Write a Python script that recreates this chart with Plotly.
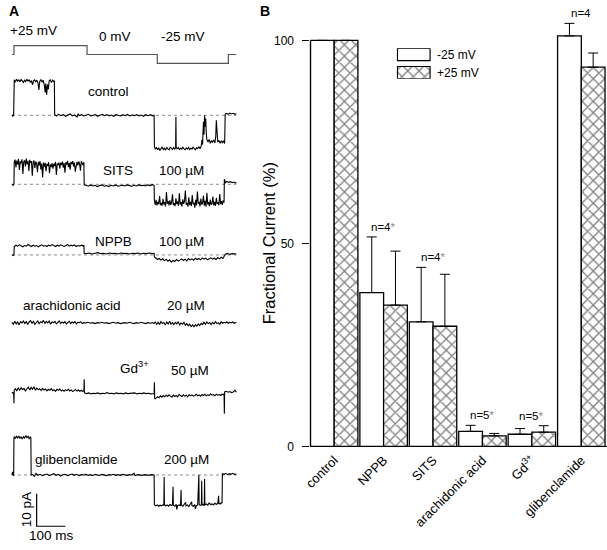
import plotly.graph_objects as go

# ================= DATA =================
# ---- Panel B: fractional current (%) ----
categories = ["control", "NPPB", "SITS", "arachidonic acid", "Gd<sup>3+</sup>", "glibenclamide"]
current_neg25 = [100, 37.9, 30.7, 3.7, 3.0, 101.1]
err_neg25 = [None, 13.7, 13.4, 1.5, 1.4, 3.1]
current_pos25 = [100, 34.8, 29.6, 2.6, 3.5, 93.4]
err_pos25 = [None, 13.3, 12.8, 0.6, 1.6, 3.5]
n_labels = ["", "n=4*", "n=4*", "n=5*", "n=5*", "n=4"]
y_ticks = [0, 50, 100]
legend_labels = ["-25 mV", "+25 mV"]

# ---- Panel A: voltage protocol (ms, mV) ----
protocol_t = [0, 7, 7, 262, 262, 507, 507, 755, 755, 783]
protocol_mV = [0, 0, 25, 25, 0, 0, -25, -25, 0, 0]
protocol_labels = ["+25 mV", "0 mV", "-25 mV"]

# ---- Panel A: current traces (ms, pA relative to closed level) ----
control_t = [0, 3, 6, 7, 8, 12, 16, 20, 24, 28, 32, 36, 40, 44, 48, 52, 56, 60, 64, 68, 72, 75, 79, 83, 87, 91, 94, 97,
             101, 105, 109, 113, 116, 118, 121, 124, 127, 130, 134, 138, 142, 146, 148, 149,
             155, 163, 171, 179, 187, 195, 203, 211, 219, 227, 231, 235, 243, 251, 259, 267, 275, 283, 291, 299,
             307, 315, 323, 331, 339, 347, 355, 363, 371, 379, 387, 395, 403, 411, 419, 427, 435, 443, 451, 459,
             467, 475, 483, 491, 496,
             497, 500, 504, 508, 512, 516, 520, 524, 528, 532, 536, 540, 544, 548, 552, 556, 560, 564, 568, 571,
             572, 573, 576, 580, 584, 588, 592, 596, 600, 604, 608, 612, 616, 620, 624, 628, 632, 636, 640, 644,
             648, 652, 656, 660, 663, 665, 668, 670, 672, 674, 676, 678, 680, 684, 688, 692, 696, 700, 704, 708,
             711, 713, 715, 718, 722, 726, 730, 734, 738, 742, 744,
             748, 754, 760, 766, 772, 778, 783]
control_pA = [0.2, -0.3, 0.1, 10.6, 10.9, 10.2, 11.1, 10.5, 10.9, 10.3, 11.0, 10.6, 10.1, 10.8, 10.4, 11.1, 10.5, 10.9,
              10.2, 10.7, 9.4, 10.6, 10.9, 10.3, 10.8, 9.9, 7.8, 10.4,
              11.0, 10.2, 10.8, 9.2, 7.0, 9.8, 6.3, 9.5, 8.0, 10.6, 10.9, 10.1, 10.8, 10.4, 10.7, 0.2,
              -0.2, 0.3, -0.1, 0.2, -0.3, 0.1, 0.4, -0.2, 0.1, -0.5, 0.5, -0.1, 0.2, -0.2, 0.1, 0.3, -0.2, 0.0, 0.2, -0.3,
              0.1, 0.3, -0.1, 0.2, -0.2, 0.1, -0.3, 0.2, 0.0, -0.2, 0.2, -0.1, 0.3, -0.2, 0.1, -0.1, 0.2, -0.2, 0.1, -0.3,
              0.2, -0.1, 0.2, -0.2, 0.1,
              -9.6, -10.4, -9.9, -10.6, -10.0, -10.8, -10.2, -9.7, -10.5, -10.1, -10.7, -9.9, -10.3, -10.6, -9.8, -10.2,
              -10.5, -9.9, -10.4, -10.0,
              -0.5, -9.8, -10.3, -9.9, -10.5, -10.1, -10.4, -9.8, -10.3, -10.6, -10.0, -10.4, -9.9, -10.5, -10.1, -10.4,
              -9.8, -10.3, -10.6, -10.0,
              -10.2, -9.7, -10.3, -9.5, -7.5, -9.0, -2.0, -6.0, 0.0, -3.5, -1.0, -5.5, -7.5, -8.2, -7.4, -8.6, -7.8,
              -8.3, -7.6, -8.5,
              -6.5, -1.5, -7.0, -8.2, -7.7, -8.6, -7.9, -8.4, -7.8, -8.7, 0.4,
              0.6, 0.3, 0.7, 0.4, 0.6, 0.3, 0.5]

sits_t = [0, 4, 7, 8, 11, 14, 17, 20, 23, 26, 29, 32, 35, 38, 41, 44, 47, 50, 53, 56, 59, 62, 65, 68, 71, 74, 77, 80, 83,
          86, 89, 92, 95, 98, 101, 104, 107, 110, 113, 116, 119, 122, 125, 128, 131, 134, 137, 140, 143, 146, 149,
          152, 155, 158, 161, 164, 167, 170, 173, 176, 179, 182, 185, 188, 191, 194, 197, 200, 203, 206, 209, 212,
          215, 218, 221, 224, 227, 230, 233, 236, 239, 242, 245, 248, 251, 252,
          258, 266, 274, 282, 290, 298, 306, 314, 322, 330, 338, 346, 354, 362, 370, 378, 386, 394, 402, 410, 418,
          426, 434, 442, 450, 458, 466, 474, 482, 490, 496,
          497, 500, 503, 506, 509, 512, 515, 518, 521, 524, 527, 530, 533, 536, 539, 542, 545, 548, 551, 554, 557,
          560, 563, 566, 569, 572, 575, 578, 581, 584, 587, 590, 593, 596, 599, 602, 605, 608, 611, 614, 617, 620,
          623, 626, 629, 632, 635, 638, 641, 644, 647, 650, 653, 656, 659, 662, 665, 668, 671, 674, 677, 680, 683,
          686, 689, 692, 695, 698, 701, 704, 707, 710, 713, 716, 719, 722, 725, 728, 731, 734, 737, 740, 741,
          745, 750, 756, 762, 768, 774, 780, 783]
sits_pA = [0.0, -0.3, 0.2, 6.8, 7.6, 5.2, 7.3, 6.1, 7.8, 4.4, 7.0, 6.5, 7.7, 3.2, 6.9, 7.4, 5.5, 7.9, 6.2, 7.2, 4.1, 7.5,
           6.6, 7.1, 2.6, 6.8, 7.3, 5.0, 7.0, 6.3, 3.7, 6.9, 5.8, 7.1, 4.6, 6.4, 2.1, 6.7, 5.4, 6.6, 4.0, 6.2, 5.7,
           6.8, 3.4, 6.1, 5.3, 6.5, 4.8, 6.3, 5.6, 6.9, 2.9, 6.4, 5.9, 6.7, 4.9, 6.6, 6.0, 7.0, 5.1, 6.5, 3.6, 6.8,
           6.1, 7.2, 5.3, 6.6, 4.5, 6.9, 6.2, 7.1, 5.5, 6.7, 3.9, 6.4, 6.9, 5.8, 7.0, 6.3, 4.2, 7.1, 6.5, 5.9, 6.8, -0.2,
           -0.3, -0.6, -0.2, -0.5, -0.3, -0.7, -0.4, -0.2, -0.6, -0.4, -0.7, -0.3, -0.5, -0.2, -0.6, -0.4, -0.3, -0.5,
           -0.2, -0.4, -0.6, -0.3, -0.5, -0.2, -0.4, -0.3, -0.5, -0.2, -0.4, -0.1, -0.3,
           -5.0, -6.3, -4.8, -6.5, -5.4, -6.1, -3.6, -6.4, -5.7, -6.6, -4.5, -6.2, -5.5, -6.8, -2.4, -6.0, -5.2, -6.5,
           -4.9, -6.3, -5.6, -3.1, -6.4, -5.8, -6.7, -4.3, -6.1, -5.3, -6.6, -2.8, -6.2, -5.5, -6.8, -4.6, -6.0, -5.2,
           -1.9, -6.3, -5.7, -6.9, -4.0, -6.4, -5.4, -6.7, -3.3, -6.1, -5.6, -7.2, -4.8, -6.5, -2.2, -6.0, -5.3, -6.8,
           -4.4, -6.3, -5.8, -3.5, -6.6, -5.1, -6.9, -2.6, -6.2, -5.5, -6.7, -4.7, -6.3, -5.9, -3.8, -6.5, -5.4, -6.6,
           -4.2, -6.0, -5.7, -6.4, -3.0, -6.1, -5.2, -6.3, -4.9, -5.6, 1.6,
           0.5, 0.9, 0.6, 0.8, 0.5, 0.7, 0.4, 0.6]

nppb_t = [0, 4, 7, 8, 14, 20, 26, 32, 38, 44, 50, 56, 62, 68, 74, 80, 86, 92, 98, 104, 110, 116, 122, 128, 134, 140, 146,
          152, 158, 164, 170, 176, 182, 188, 194, 200, 206, 212, 218, 224, 230, 236, 242, 248, 251, 252,
          260, 270, 280, 290, 300, 310, 320, 330, 340, 350, 360, 370, 380, 390, 400, 410, 420, 430, 440, 450, 460,
          470, 480, 490, 496,
          497, 502, 508, 514, 520, 526, 532, 538, 544, 550, 556, 562, 568, 574, 580, 586, 592, 598, 604, 610, 616,
          622, 628, 634, 640, 646, 652, 658, 664, 670, 676, 682, 688, 694, 700, 706, 712, 718, 724, 730, 736, 740,
          745, 752, 760, 768, 776, 783]
nppb_pA = [0.1, -0.2, 0.0, 2.6, 3.0, 2.7, 3.1, 2.8, 2.5, 2.9, 2.7, 3.2, 2.8, 2.6, 3.0, 2.7, 2.9, 2.5, 2.8, 3.1, 2.7, 2.9,
           2.6, 3.0, 2.8, 3.2, 2.9, 2.6, 3.0, 2.7, 3.1, 2.8, 2.6, 2.9, 3.2, 2.7, 3.0, 2.8, 3.1, 2.6, 2.9, 2.7, 3.0,
           2.8, 2.9, 0.5,
           0.4, 0.6, 0.3, 0.5, 0.7, 0.4, 0.5, 0.3, 0.6, 0.4, 0.5, 0.3, 0.6, 0.4, 0.5, 0.3, 0.5, 0.4, 0.6, 0.3, 0.5,
           0.4, 0.6, 0.4, 0.5,
           -0.6, -1.0, -1.4, -1.1, -1.6, -1.2, -1.8, -1.3, -1.9, -1.5, -2.2, -1.7, -2.0, -1.4, -1.9, -1.6, -1.2, -1.7,
           -1.3, -1.8, -1.1, -1.5, -1.2, -1.6, -1.0, -1.4, -1.1, -1.5, -0.9, -1.3, -1.0, -1.5, -1.2, -0.9, -1.3,
           -1.0, -1.4, -0.8, -1.2, -0.7, -1.1, -0.6,
           0.3, 0.4, 0.2, 0.4, 0.3, 0.3]

arach_t = [0, 5, 10, 15, 20, 25, 30, 35, 40, 45, 50, 55, 60, 65, 70, 75, 80, 85, 90, 95, 100, 105, 110, 115, 120, 125,
           130, 135, 140, 145, 150, 155, 160, 165, 170, 175, 180, 185, 190, 195, 200, 205, 210, 215, 220, 225, 230,
           235, 240, 245, 250,
           258, 266, 274, 282, 290, 298, 306, 314, 322, 330, 338, 346, 354, 362, 370, 378, 386, 394, 402, 410, 418,
           426, 434, 442, 450, 458, 466, 474, 482, 490, 496,
           500, 505, 510, 515, 520, 525, 530, 535, 540, 545, 550, 555, 560, 565, 570, 575, 580, 585, 590, 595, 600,
           605, 610, 615, 620, 625, 630, 635, 640, 645, 650, 655, 660, 665, 670, 675, 680, 685, 690, 695, 700, 705,
           710, 715, 720, 725, 730, 735, 740, 745, 750, 755, 760, 765, 770, 775, 780, 783]
arach_pA = [0.2, -0.4, 0.5, -0.3, 0.3, -0.6, 0.4, 0.0, 0.6, -0.2, 0.4, -0.5, 0.3, 0.7, -0.1, 0.5, -0.4, 0.2, 0.6, -0.3,
            0.4, 0.1, 0.8, -0.2, 0.5, 0.0, 0.6, -0.4, 0.3, 0.1, 0.5, -0.3, 0.2, 0.6, -0.2, 0.3, 0.0, 0.4, -0.3, 0.2,
            0.5, -0.2, 0.3, 0.0, 0.4, -0.3, 0.2, 0.1, 0.4, -0.2, 0.1,
            0.0, 0.2, -0.1, 0.1, -0.2, 0.1, 0.0, 0.2, -0.1, 0.1, -0.2, 0.0, 0.2, -0.1, 0.1, -0.2, 0.0, 0.1, -0.1, 0.2,
            0.0, -0.2, 0.1, -0.1, 0.2, 0.0, -0.2, 0.1, -0.1, 0.1, -0.2,
            0.3, -0.4, 0.2, -0.5, 0.4, -0.2, 0.1, -0.6, 0.3, -0.3, 0.5, -0.4, 0.1, -0.5, 0.2, -0.3, 0.4, -0.6, 0.0,
            -0.4, 0.2, -0.7, -0.2, -0.9, -0.4, -1.1, -0.6, -1.2, -0.5, -1.0, -0.3, -0.8, -0.1, -0.5, 0.2, -0.4, 0.3,
            -0.2, 0.1, -0.5, 0.2, -0.3, 0.4, -0.2, 0.1, -0.4, 0.3, -0.1, 0.2, 0.0, 0.3, -0.1, 0.2, 0.0, 0.3, -0.1,
            0.1, 0.0]

gd_t = [0, 4, 6, 7, 8, 12, 17, 22, 27, 32, 37, 42, 47, 52, 57, 62, 67, 72, 77, 82, 87, 92, 97, 102, 107, 112, 117, 122,
        127, 132, 137, 142, 147, 152, 157, 162, 167, 172, 177, 182, 187, 192, 197, 202, 207, 212, 217, 222, 227, 232,
        237, 242, 247, 251, 252, 253,
        260, 268, 276, 284, 292, 300, 308, 316, 324, 332, 340, 348, 356, 364, 372, 380, 388, 396, 404, 412, 420, 428,
        436, 444, 452, 460, 468, 476, 484, 492, 496, 497, 498,
        503, 508, 513, 518, 523, 528, 533, 538, 543, 548, 553, 558, 563, 568, 573, 578, 583, 588, 593, 598, 603, 608,
        613, 618, 623, 628, 633, 638, 643, 648, 653, 658, 663, 668, 673, 678, 683, 688, 693, 698, 703, 708, 713, 718,
        723, 728, 733, 738, 740, 741, 742,
        748, 754, 760, 766, 772, 778, 783]
gd_pA = [0.2, -0.1, 0.1, -3.2, 0.8, 1.3, 0.7, 1.5, 0.9, 1.6, 1.0, 1.4, 0.6, 1.2, 1.8, 0.9, 1.7, 1.1, 1.9, 0.8, 1.5, 1.0,
         1.3, 0.7, 1.4, 0.9, 1.2, 0.6, 1.1, 0.8, 1.3, 0.7, 1.0, 0.5, 1.1, 0.8, 1.2, 0.6, 0.9, 0.5, 1.0, 0.7, 1.1, 0.6,
         0.9, 0.4, 0.8, 1.0, 0.6, 0.9, 0.5, 0.8, 0.4, 0.7, 4.2, 0.0,
         -0.2, 0.0, -0.3, -0.1, -0.2, 0.0, -0.3, -0.1, -0.2, 0.1, -0.2, -0.1, -0.3, 0.0, -0.2, -0.1, -0.3, 0.0, -0.2,
         -0.1, -0.2, 0.0, -0.3, -0.1, -0.2, 0.0, -0.2, -0.1, -0.3, -0.1, -0.2, 3.3, -1.9,
         -1.6, -1.2, -1.5, -0.9, -1.3, -0.8, -1.2, -0.7, -1.1, -0.6, -1.0, -1.3, -0.7, -1.1, -0.8, -1.2, -0.5, -0.9,
         -1.1, -0.6, -1.0, -0.7, -1.2, -0.5, -0.9, -0.6, -1.0, -0.8, -0.4, -0.9, -0.6, -1.0, -0.5, -0.8, -0.4, -0.9,
         -0.6, -0.8, -0.3, -0.7, -0.5, -0.9, -0.4, -0.7, -0.5, -0.8, -0.4, -0.6, -0.3, -6.4, 0.3,
         0.5, 0.2, 0.4, 0.1, 0.3, 0.8, 0.2]

glib_t = [0, 2, 4, 6, 7, 8, 12, 16, 20, 24, 28, 32, 36, 40, 44, 48, 52, 56, 60, 64, 66, 67,
          72, 78, 84, 90, 98, 106, 114, 122, 130, 138, 146, 154, 162, 170, 178, 186, 194, 202, 210, 218, 226, 234,
          242, 250, 258, 266, 274, 282, 290, 298, 306, 314, 322, 330, 338, 346, 354, 362, 370, 378, 386, 394, 402,
          410, 418, 426, 430, 438, 446, 454, 462, 470, 478, 486, 496,
          497, 502, 507, 512, 517, 522, 527, 530, 531, 532, 536, 541, 546, 551, 556, 560, 562, 563, 568, 573, 575,
          578, 583, 588, 590, 591, 596, 601, 606, 607, 612, 617, 622, 627, 628, 633, 638, 640, 643, 648, 652, 653,
          657, 661, 662, 663, 667, 671, 672, 673, 678, 683, 688, 693, 698, 703, 708, 713, 718, 721, 722, 726, 730,
          733, 734,
          740, 746, 752, 758, 764, 770, 776, 783]
glib_pA = [0.0, 1.0, 0.0, -0.2, 11.3, 11.8, 11.2, 11.9, 11.4, 12.0, 11.3, 11.7, 11.1, 11.8, 11.4, 12.1, 11.5, 11.9, 11.2,
           11.7, 11.5, 0.0,
           0.2, -0.4, 0.5, -0.1, 0.2, -0.2, 0.1, 0.3, -0.2, 0.1, 0.4, -0.1, 0.2, -0.3, 0.1, 0.2, -0.2, 0.1, 0.3,
           -0.1, 0.2, -0.2, 0.1, 0.0, 0.2, -0.1, 0.1, -0.2, 0.2, 0.0, -0.1, 0.2, 0.0, -0.2, 0.1, 0.0, 0.2, -0.1, 0.1,
           -0.1, 0.2, 0.0, -0.1, 0.1, 0.0, 0.5, -0.2, 0.1, 0.0, -0.1, 0.1, 0.0, -0.1, 0.1, 0.0,
           -9.2, -9.5, -9.2, -9.6, -9.3, -9.5, -9.2, -9.4, -0.6, -9.1, -9.5, -9.2, -9.6, -9.1, -9.4, -9.2, -3.6, -9.3,
           -9.6, -9.0, -10.6, -9.4, -9.2, -9.5, -4.6, -9.2, -9.6, -9.1, -8.4, -9.5, -9.2, -9.7, -9.1, -8.2, -9.4,
           -9.6, -9.1, -10.4, -9.5, -9.2, 0.0, -9.0, -9.4, -9.1, -1.8, -9.3, -9.0, -9.4, -1.2, -9.2, -8.9, -9.3,
           -8.6, -9.1, -8.9, -9.2, -8.7, -9.0, -8.8, -6.4, -8.7, -8.9, -8.5, -8.7, 0.4,
           0.2, 0.5, 0.1, 0.4, 0.2, 0.5, 0.2, 0.3]

scale_bar_pA = 10
scale_bar_ms = 100

# ================= LAYOUT CONSTANTS =================
W, H = 607, 550
FONT = "Liberation Sans, Arial, Helvetica, sans-serif"


def fx(px):
    return px / W


def fy(py):
    return 1 - py / H


# Panel A geometry (pixels)
T0_PX = 5.0          # x pixel of t = 0 ms
PX_PER_MS = 0.29
PX_PER_PA = 3.3
PROTO_BASE_PX = 54.3
PX_PER_MV = 9.0 / 25.0
baseline_px = {"control": 116.0, "sits": 186.0, "nppb": 257.7, "arach": 326.7, "gd": 397.7, "glib": 481.0}
dotted = ["control", "sits", "nppb", "glib"]
scale_corner_px = (30.0, 533.0)


def off(py):
    return (H - py) / PX_PER_PA


# Panel B geometry (pixels)
B_X0, B_X1 = 307.0, 607.0
B_Y0_PX, B_Y100_PX, B_TOP_PX = 452.0, 40.0, 10.0
px_per_pct = (B_Y0_PX - B_Y100_PX) / 100.0
b_ymax = (B_Y0_PX - B_TOP_PX) / px_per_pct

fig = go.Figure()

# ---------------- Panel A ----------------
traces_A = {
    "control": (control_t, control_pA),
    "sits": (sits_t, sits_pA),
    "nppb": (nppb_t, nppb_pA),
    "arach": (arach_t, arach_pA),
    "gd": (gd_t, gd_pA),
    "glib": (glib_t, glib_pA),
}
t_end = protocol_t[-1]
for key in dotted:
    o = off(baseline_px[key])
    fig.add_trace(go.Scatter(x=[protocol_t[0], t_end], y=[o, o], mode="lines",
                             line=dict(color="#8a8a8a", width=1, dash="dot"),
                             xaxis="x2", yaxis="y2", showlegend=False, hoverinfo="skip"))
for key, (tt, ii) in traces_A.items():
    o = off(baseline_px[key])
    fig.add_trace(go.Scatter(x=tt, y=[v + o for v in ii], mode="lines",
                             line=dict(color="black", width=1.1),
                             xaxis="x2", yaxis="y2", showlegend=False, hoverinfo="skip"))

# voltage protocol
po = off(PROTO_BASE_PX)
mv_to_units = PX_PER_MV / PX_PER_PA
fig.add_trace(go.Scatter(x=protocol_t, y=[po + v * mv_to_units for v in protocol_mV], mode="lines",
                         line=dict(color="#555555", width=1.2),
                         xaxis="x2", yaxis="y2", showlegend=False, hoverinfo="skip"))

# scale bar
sc_t = (scale_corner_px[0] - T0_PX) / PX_PER_MS
sc_v = off(scale_corner_px[1])
fig.add_trace(go.Scatter(x=[sc_t, sc_t, sc_t + scale_bar_ms],
                         y=[sc_v + scale_bar_pA, sc_v, sc_v], mode="lines",
                         line=dict(color="black", width=1.2),
                         xaxis="x2", yaxis="y2", showlegend=False, hoverinfo="skip"))

# ---------------- Panel B ----------------
HATCH = dict(shape="x", fgcolor="black", bgcolor="white", size=8, solidity=0.3)
fig.add_trace(go.Bar(
    x=categories, y=current_neg25, name=legend_labels[0],
    marker=dict(color="white", line=dict(color="black", width=1.3)),
    error_y=dict(type="data", symmetric=False, array=err_neg25, arrayminus=[0] * len(categories),
                 color="black", thickness=1, width=5),
    showlegend=False))
fig.add_trace(go.Bar(
    x=categories, y=current_pos25, name=legend_labels[1],
    marker=dict(color="white", line=dict(color="black", width=1.3), pattern=HATCH),
    error_y=dict(type="data", symmetric=False, array=err_pos25, arrayminus=[0] * len(categories),
                 color="black", thickness=1, width=5),
    showlegend=False))

# legend swatches (drawn as bars on a tiny subplot so the hatching shows)
fig.add_trace(go.Bar(
    y=legend_labels, x=[1, 1], orientation="h", width=0.68,
    marker=dict(color="white", line=dict(color="black", width=1.2),
                pattern=dict(shape=["", "x"], fgcolor="black", bgcolor="white", size=8, solidity=0.3)),
    xaxis="x3", yaxis="y3", showlegend=False, hoverinfo="skip"))

annotations = []
# n labels
for cat, a, ea, b, eb, lab in zip(categories, current_neg25, err_neg25, current_pos25, err_pos25, n_labels):
    if not lab:
        continue
    top = max(a + (ea or 0), b + (eb or 0))
    txt = lab.replace("*", "<span style='color:#8a8a8a'>*</span>")
    annotations.append(dict(x=cat, y=top, xref="x", yref="y", text=txt, showarrow=False,
                            xanchor="center", yanchor="bottom", yshift=2,
                            font=dict(size=11.5, color="black", family=FONT)))

# y-axis title for B
annotations.append(dict(x=fx(265), y=fy(246), xref="paper", yref="paper", text="Fractional Current (%)",
                        textangle=-90, showarrow=False, xanchor="center", yanchor="middle",
                        font=dict(size=16.5, color="black", family=FONT)))
# panel letters
annotations.append(dict(x=fx(7), y=fy(10), xref="paper", yref="paper", text="<b>A</b>", showarrow=False,
                        xanchor="center", yanchor="middle", font=dict(size=14, color="black", family=FONT)))
annotations.append(dict(x=fx(261), y=fy(10), xref="paper", yref="paper", text="<b>B</b>", showarrow=False,
                        xanchor="center", yanchor="middle", font=dict(size=14, color="black", family=FONT)))

# panel A text labels
a_labels = [
    (protocol_labels[0], 27, 30, "center"),
    (protocol_labels[1], 109, 36, "center"),
    (protocol_labels[2], 178, 36, "center"),
    ("control", 103, 92, "center"),
    ("SITS", 112, 172, "center"),
    ("100 µM", 177, 172, "center"),
    ("NPPB", 108, 244, "center"),
    ("100 µM", 177, 244, "center"),
    ("arachidonic acid", 66, 309, "center"),
    ("20 µM", 181, 309, "center"),
    ("Gd<sup>3+</sup>", 112, 371, "left"),
    ("50 µM", 185, 375, "center"),
    ("glibenclamide", 70, 465, "center"),
    ("200 µM", 182, 465, "center"),
    ("100 ms", 45, 542, "center"),
]
for text, x, y, xa in a_labels:
    annotations.append(dict(x=fx(x), y=fy(y), xref="paper", yref="paper", text=text, showarrow=False,
                            xanchor=xa, yanchor="middle", font=dict(size=13.5, color="black", family=FONT)))
annotations.append(dict(x=fx(20), y=fy(516), xref="paper", yref="paper", text="10 pA", textangle=-90,
                        showarrow=False, xanchor="center", yanchor="middle",
                        font=dict(size=13.5, color="black", family=FONT)))

shapes = [
    # Panel B y-axis line, drawn only from 0 to 100 %
    dict(type="line", xref="paper", yref="y", x0=fx(B_X0), x1=fx(B_X0), y0=0, y1=100,
         line=dict(color="black", width=1.3)),
]

fig.update_layout(
    width=W, height=H,
    margin=dict(l=0, r=0, t=0, b=0),
    paper_bgcolor="white", plot_bgcolor="rgba(0,0,0,0)",
    font=dict(family=FONT, color="black"),
    barmode="group", bargap=0.04, bargroupgap=0.0,
    showlegend=False,
    annotations=annotations,
    shapes=shapes,
    xaxis=dict(domain=[fx(B_X0), fx(B_X1)], range=[-0.48, len(categories) - 0.48],
               showline=True, linecolor="black", linewidth=1.3, ticks="", tickangle=-45,
               tickfont=dict(size=13, color="black", family=FONT), showgrid=False, zeroline=False,
               anchor="y", fixedrange=True),
    yaxis=dict(domain=[fy(B_Y0_PX), fy(B_TOP_PX)], range=[0, b_ymax],
               tickvals=y_ticks, ticks="outside", ticklen=7, tickwidth=1.2, tickcolor="black",
               showline=False, showgrid=False, zeroline=False, ticklabelstandoff=6,
               tickfont=dict(size=12, color="black", family=FONT), anchor="x"),
    xaxis2=dict(domain=[0, fx(240)], range=[(0 - T0_PX) / PX_PER_MS, (240 - T0_PX) / PX_PER_MS],
                visible=False, anchor="y2"),
    yaxis2=dict(domain=[0, 1], range=[0, H / PX_PER_PA], visible=False, anchor="x2"),
    xaxis3=dict(domain=[fx(394), fx(429)], range=[-0.03, 1.03], visible=False, anchor="y3"),
    yaxis3=dict(domain=[fy(79), fy(48)], range=[-0.34, 1.34], side="right", anchor="x3",
                categoryorder="array", categoryarray=[legend_labels[1], legend_labels[0]],
                showline=False, showgrid=False, zeroline=False, ticks="", ticklabelstandoff=5,
                tickfont=dict(size=12, color="black", family=FONT)),
)

fig.write_html("out.html", config={"displayModeBar": False},
               post_script="document.body.style.margin='0px';document.body.style.overflow='hidden';")
